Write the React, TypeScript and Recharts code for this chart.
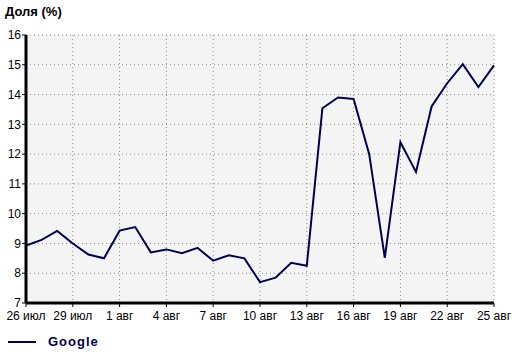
import { LineChart, Line, XAxis, YAxis, CartesianGrid } from "recharts";

const days = [
  "26 июл", "27 июл", "28 июл", "29 июл", "30 июл", "31 июл",
  "1 авг", "2 авг", "3 авг", "4 авг", "5 авг", "6 авг", "7 авг", "8 авг", "9 авг",
  "10 авг", "11 авг", "12 авг", "13 авг", "14 авг", "15 авг", "16 авг", "17 авг",
  "18 авг", "19 авг", "20 авг", "21 авг", "22 авг", "23 авг", "24 авг", "25 авг",
];

const google = [
  8.93, 9.12, 9.42, 9.0, 8.63, 8.5, 9.43, 9.55, 8.7, 8.8, 8.67, 8.85, 8.42, 8.6, 8.5,
  7.7, 7.85, 8.35, 8.25, 13.54, 13.9, 13.85, 12.0, 8.52, 12.4, 11.4, 13.6, 14.38, 15.02,
  14.25, 14.98,
];

const yTicks = [7, 8, 9, 10, 11, 12, 13, 14, 15, 16];

const data = days.map((day, i) => ({ day, google: google[i] }));

const font = "'Liberation Sans', Arial, sans-serif";

export default function App() {
  return (
    <div style={{ position: "relative", width: 520, height: 353, fontFamily: font, background: "#fff" }}>
      <style>{`body{margin:0}`}</style>
      <div style={{ position: "absolute", left: 5, top: 4, fontSize: 13, fontWeight: "bold", color: "#000" }}>
        Доля (%)
      </div>
      <LineChart width={520} height={353} data={data} margin={{ top: 35, right: 26, left: 0, bottom: 30 }}>
        <CartesianGrid fill="#f4f4f4" stroke="#888" strokeDasharray="1 3" />
        <XAxis
          dataKey="day"
          interval={2}
          tick={{ fill: "#000", fontSize: 12, fontFamily: font }}
          tickSize={4}
          tickMargin={4}
          axisLine={{ stroke: "#000", strokeWidth: 3 }}
          tickLine={{ stroke: "#000", strokeWidth: 1 }}
          height={20}
        />
        <YAxis
          domain={[7, 16]}
          ticks={yTicks}
          width={26}
          tick={{ fill: "#000", fontSize: 12, fontFamily: font }}
          tickSize={4}
          tickMargin={1}
          axisLine={{ stroke: "#000", strokeWidth: 3 }}
          tickLine={{ stroke: "#000", strokeWidth: 1 }}
        />
        <Line
          type="linear"
          dataKey="google"
          stroke="#000050"
          strokeWidth={2}
          dot={false}
          isAnimationActive={false}
        />
      </LineChart>
      <div style={{ position: "absolute", left: 8, top: 334, display: "flex", alignItems: "center" }}>
        <span style={{ display: "inline-block", width: 28, height: 2, background: "#000050" }} />
        <span style={{ marginLeft: 12, fontSize: 13, fontWeight: "bold", color: "#000050", letterSpacing: 1 }}>
          Google
        </span>
      </div>
    </div>
  );
}
